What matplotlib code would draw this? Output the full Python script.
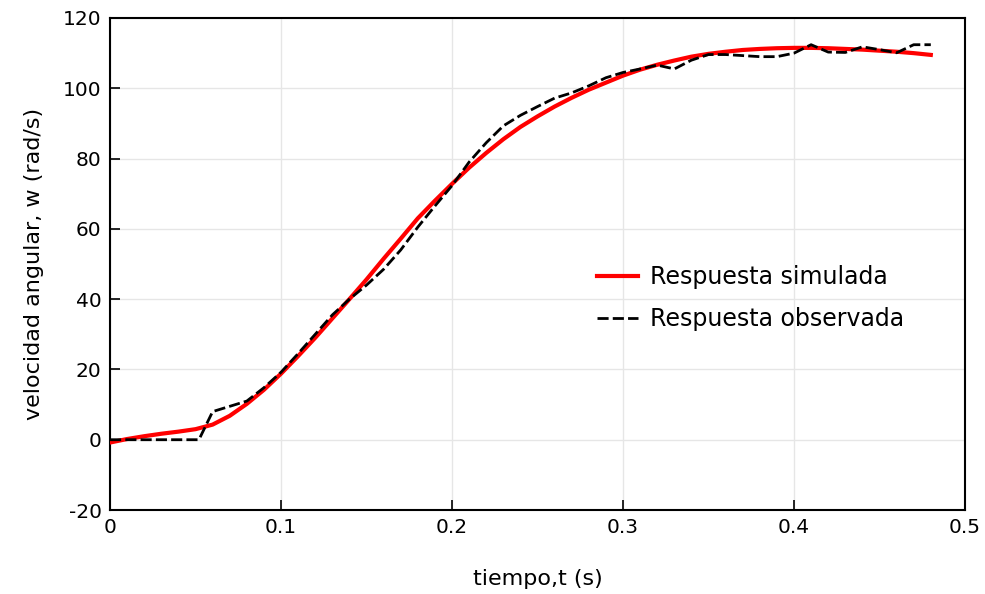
import numpy as np
import matplotlib
matplotlib.use('Agg')
import matplotlib.pyplot as plt

# tiempo (s)
t = [0, 0.01, 0.02, 0.03, 0.04, 0.05, 0.06, 0.07, 0.08, 0.09,
     0.10, 0.11, 0.12, 0.13, 0.14, 0.15, 0.16, 0.17, 0.18, 0.19,
     0.20, 0.21, 0.22, 0.23, 0.24, 0.25, 0.26, 0.27, 0.28, 0.29,
     0.30, 0.31, 0.32, 0.33, 0.34, 0.35, 0.36, 0.37, 0.38, 0.39,
     0.40, 0.41, 0.42, 0.43, 0.44, 0.45, 0.46, 0.47, 0.48]

# respuesta simulada
w_sim = [-0.8, 0.2, 1.0, 1.7, 2.3, 3.0, 4.3, 6.8, 10.2, 14.2,
         18.8, 23.8, 29.0, 34.5, 40.0, 45.6, 51.5, 57.2, 63.0, 68.0,
         72.8, 77.4, 81.6, 85.5, 89.0, 92.0, 94.8, 97.3, 99.6, 101.6,
         103.6, 105.3, 106.7, 107.9, 109.0, 109.8, 110.4, 110.9, 111.2, 111.4,
         111.5, 111.5, 111.4, 111.2, 111.0, 110.7, 110.4, 110.0, 109.5]

# respuesta observada
t_obs = [0, 0.01, 0.02, 0.03, 0.04, 0.052, 0.06, 0.07, 0.08, 0.09,
         0.10, 0.11, 0.12, 0.13, 0.14, 0.15, 0.16, 0.17, 0.18, 0.19,
         0.20, 0.21, 0.22, 0.23, 0.24, 0.25, 0.26, 0.27, 0.28, 0.29,
         0.30, 0.31, 0.32, 0.33, 0.34, 0.35, 0.36, 0.37, 0.38, 0.39,
         0.40, 0.41, 0.42, 0.43, 0.44, 0.45, 0.46, 0.47, 0.48]
w_obs = [0, 0, 0, 0, 0, 0, 8.0, 9.5, 11.0, 14.8,
         19.2, 24.5, 30.0, 35.5, 40.0, 44.0, 48.5, 54.0, 60.5, 66.5,
         72.3, 79.0, 84.5, 89.3, 92.3, 94.8, 97.2, 98.7, 100.7, 103.0,
         104.5, 105.5, 106.6, 105.5, 108.0, 109.6, 109.6, 109.3, 109.0, 109.0,
         110.0, 112.4, 110.3, 110.2, 111.8, 111.0, 110.1, 112.4, 112.4]

xticks = [0, 0.1, 0.2, 0.3, 0.4, 0.5]
xticklabels = ['0', '0.1', '0.2', '0.3', '0.4', '0.5']
yticks = [-20, 0, 20, 40, 60, 80, 100, 120]

plt.rcParams['font.family'] = ['DejaVu Sans']
plt.rcParams['axes.unicode_minus'] = False

fig = plt.figure(figsize=(9.85, 5.94), dpi=100)
ax = fig.add_axes([0.1117, 0.1414, 0.868, 0.8283])

ax.plot(t, w_sim, color='#ff0000', lw=3, label='Respuesta simulada', zorder=3)
ax.plot(t_obs, w_obs, color='black', lw=2, dashes=(4, 1.5),
        label='Respuesta observada', zorder=4)

ax.set_xlim(0, 0.5)
ax.set_ylim(-20, 120)
ax.set_xticks(xticks)
ax.set_yticks(yticks)
ax.set_xticklabels(xticklabels)
ax.grid(True, color='#e6e6e6', lw=1)
ax.set_axisbelow(True)

ax.tick_params(direction='in', length=7, width=1.2, labelsize=14.5,
               top=False, right=False, pad=6)
for s in ax.spines.values():
    s.set_linewidth(1.5)

ax.set_xlabel('tiempo,t (s)', fontsize=16, labelpad=23)
ax.set_ylabel('velocidad angular, w (rad/s)', fontsize=16, labelpad=14)

ax.legend(loc='upper left', bbox_to_anchor=(0.57, 0.498), frameon=False,
          fontsize=17, handlelength=1.7, handletextpad=0.55, labelspacing=0.78,
          borderpad=0, borderaxespad=0)

fig.savefig('out.png', dpi=100)
